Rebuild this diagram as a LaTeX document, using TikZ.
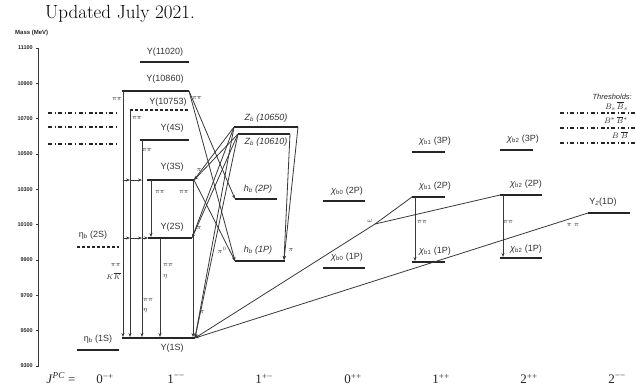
\documentclass[tikz,border=0pt]{standalone}
\usepackage{fontspec}
\newfontfamily\hel{Liberation Sans}
\newfontfamily\tnr{Liberation Serif}
\usetikzlibrary{arrows.meta}
\begin{document}
\begin{tikzpicture}[x=1pt,y=-1pt,
 lvl/.style={line width=1.7pt, black!85},
 lvld/.style={line width=1.7pt, black!85, dash pattern=on 3pt off 2pt},
 thr/.style={line width=1.1pt, black!85, dash pattern=on 4pt off 2.5pt on 1.2pt off 2.5pt},
 conn/.style={line width=0.8pt, black!78},
 arr/.style={conn, -{Stealth[length=4pt,width=3pt]}},
 lab/.style={font=\hel\fontsize{9}{9}\selectfont, inner sep=0pt, text=black!80},
 ilab/.style={font=\hel\itshape\fontsize{9}{9}\selectfont, inner sep=0pt, text=black!80},
 pil/.style={font=\fontsize{7}{7}\selectfont, inner sep=0pt, text=black!80},
 tickl/.style={font=\hel\bfseries\fontsize{5.5}{6}\selectfont, inner sep=0pt, anchor=east, text=black!85},
 jpc/.style={font=\tnr\fontsize{13}{13}\selectfont, inner sep=0pt, text=black!85}
]
\useasboundingbox (0,0) rectangle (636,391);

% title and axis
\node[anchor=base west, font=\fontsize{19}{19}\selectfont, inner sep=0pt] (title) at (45,18) {Updated July 2021.};
\node[anchor=west, font=\hel\bfseries\fontsize{6}{6}\selectfont, inner sep=0pt, text=black!85] (mass) at (15,33) {Mass (MeV)};
\coordinate (axT) at (38,48);
\coordinate (axB) at (38,366);
\draw[conn] (axT) -- (axB);
\foreach \m/\yy in {11100/47.9,10900/83.2,10700/118.6,10500/153.9,10300/189.3,10100/224.6,9900/260,9700/295.3,9500/330.7,9300/366}{
  \coordinate (tk\m) at (36,\yy);
  \draw[conn] (tk\m) -- ++(3,0);
  \node[tickl] (tl\m) at (33,\yy) {\m};
}

% thresholds
\foreach \n/\yy in {a/113,b/127,c/144}{
  \coordinate (thL\n) at (48,\yy); \coordinate (thR\n) at (119,\yy);
  \draw[thr] (thL\n) -- (thR\n);
}
\foreach \n/\yy in {a/113,b/128,c/143}{
  \coordinate (th2L\n) at (560,\yy); \coordinate (th2R\n) at (636,\yy);
  \draw[thr] (th2L\n) -- (th2R\n);
}
\node[anchor=east, font=\hel\itshape\fontsize{7.5}{8}\selectfont, inner sep=0pt, text=black!85] (thr) at (632,97) {Thresholds:};
\node[anchor=east, font=\fontsize{8}{8}\selectfont, inner sep=0pt, text=black!85] (thBs) at (628,106) {$B_s\,\overline{B}_s$};
\node[anchor=east, font=\fontsize{8}{8}\selectfont, inner sep=0pt, text=black!85] (thBst) at (628,120) {$B^*\,\overline{B}{}^*$};
\node[anchor=east, font=\fontsize{8}{8}\selectfont, inner sep=0pt, text=black!85] (thB) at (628,135) {$B\;\overline{B}$};

% Upsilon levels
\coordinate (u6L) at (140,62);  \coordinate (u6R) at (189,62);
\coordinate (u5L) at (122,91);  \coordinate (u5R) at (189,91);
\coordinate (uxL) at (130,110); \coordinate (uxR) at (188,110);
\coordinate (u4L) at (140,140); \coordinate (u4R) at (189,140);
\coordinate (u3L) at (147,180); \coordinate (u3R) at (194,180);
\coordinate (u2L) at (148,238); \coordinate (u2R) at (192,238);
\coordinate (u1L) at (122,338); \coordinate (u1R) at (195,338);
\draw[lvl] (u6L) -- (u6R);
\draw[lvl] (u5L) -- (u5R);
\draw[lvld] (uxL) -- (uxR);
\draw[lvl] (u4L) -- (u4R);
\draw[lvl] (u3L) -- (u3R);
\draw[lvl] (u2L) -- (u2R);
\draw[lvl] (u1L) -- (u1R);
\node[lab] (lu6) at (165,52) {Υ(11020)};
\node[lab] (lu5) at (165,79) {Υ(10860)};
\node[lab] (lux) at (168,102) {Υ(10753)};
\node[lab] (lu4) at (172,128) {Υ(4S)};
\node[lab] (lu3) at (172,167) {Υ(3S)};
\node[lab] (lu2) at (172,227) {Υ(2S)};
\node[lab] (lu1) at (172,348) {Υ(1S)};

% eta_b
\coordinate (e2L) at (77,247); \coordinate (e2R) at (119,247);
\coordinate (e1L) at (77,350); \coordinate (e1R) at (119,350);
\draw[lvld] (e2L) -- (e2R);
\draw[lvl] (e1L) -- (e1R);
\node[lab] (le2) at (93,235) {η\textsubscript{b} (2S)};
\node[lab] (le1) at (98,339) {η\textsubscript{b} (1S)};

% Z_b and h_b
\coordinate (zaL) at (234,127); \coordinate (zaR) at (298,127);
\coordinate (zbL) at (238,134); \coordinate (zbR) at (290,134);
\coordinate (h2L) at (235,199); \coordinate (h2R) at (277,199);
\coordinate (h1L) at (235,261); \coordinate (h1R) at (285,261);
\draw[lvl] (zaL) -- (zaR);
\draw[lvl] (zbL) -- (zbR);
\draw[lvl] (h2L) -- (h2R);
\draw[lvl] (h1L) -- (h1R);
\node[ilab] (lza) at (266,118) {Z\textsubscript{b} (10650)};
\node[ilab] (lzb) at (266,142) {Z\textsubscript{b} (10610)};
\node[ilab] (lh2) at (258,189) {h\textsubscript{b} (2P)};
\node[ilab] (lh1) at (258,250) {h\textsubscript{b} (1P)};

% chi_b levels
\coordinate (c02L) at (323,201); \coordinate (c02R) at (365,201);
\coordinate (c01L) at (323,268); \coordinate (c01R) at (365,268);
\coordinate (c13L) at (412,152); \coordinate (c13R) at (445,152);
\coordinate (c12L) at (412,197); \coordinate (c12R) at (445,197);
\coordinate (c11L) at (412,262); \coordinate (c11R) at (445,262);
\coordinate (c23L) at (500,150); \coordinate (c23R) at (533,150);
\coordinate (c22L) at (500,195); \coordinate (c22R) at (542,195);
\coordinate (c21L) at (500,258); \coordinate (c21R) at (542,258);
\coordinate (dL) at (588,213); \coordinate (dR) at (630,213);
\foreach \c in {c02,c01,c13,c12,c11,c23,c22,c21,d}{\draw[lvl] (\c L) -- (\c R);}
\node[lab] (lc02) at (347,191) {\textit{χ}\textsubscript{b0} (2P)};
\node[lab] (lc01) at (347,257) {\textit{χ}\textsubscript{b0} (1P)};
\node[lab] (lc13) at (435,141) {\textit{χ}\textsubscript{b1} (3P)};
\node[lab] (lc12) at (435,186) {\textit{χ}\textsubscript{b1} (2P)};
\node[lab] (lc11) at (435,251) {\textit{χ}\textsubscript{b1} (1P)};
\node[lab] (lc23) at (523,139) {\textit{χ}\textsubscript{b2} (3P)};
\node[lab] (lc22) at (526,184) {\textit{χ}\textsubscript{b2} (2P)};
\node[lab] (lc21) at (526,249) {\textit{χ}\textsubscript{b2} (1P)};
\node[lab] (ld) at (603,202) {Υ\textsubscript{\textit{2}}(1D)};

% vertical transitions to Upsilon(1S)
\coordinate (v1t) at (123,91);  \coordinate (v1b) at (123,337);
\coordinate (v2t) at (130,110); \coordinate (v2b) at (130,337);
\coordinate (v3t) at (142,140); \coordinate (v3b) at (142,337);
\coordinate (v4t) at (151,180); \coordinate (v4b) at (151,237);
\coordinate (v5t) at (160,238); \coordinate (v5b) at (160,337);
\coordinate (v6t) at (193,180); \coordinate (v6b) at (193,337);
\foreach \v in {1,...,6}{\draw[arr] (v\v t) -- (v\v b);}
% horizontal branches
\coordinate (h3a) at (123,180); \coordinate (h3b) at (130,180); \coordinate (h3c) at (142,180);
\coordinate (h2a) at (123,238); \coordinate (h2b) at (130,238); \coordinate (h2c) at (142,238); \coordinate (h2d) at (148,238);
\draw[arr] (h3a) -- (h3b);
\draw[arr] (h3b) -- (h3c);
\draw[arr] (h2a) -- (h2b);
\draw[arr] (h2b) -- (h2c);
\draw[arr] (h2c) -- (h2d);

% slanted transitions
\draw[arr] (u5R) -- (h2L);
\draw[arr] (u5R) -- (h1L);
\draw[arr] (u3R) -- (h1L);
\foreach \z in {zaL,zbL}{
  \draw[arr] (\z) -- (u3R);
  \draw[arr] (\z) -- (u2R);
  \draw[arr] (\z) -- (u1R);
}
\coordinate (zh1) at (284,260);
\draw[arr] (zaR) -- (zh1);
\draw[arr] (zbR) -- (zh1);
\coordinate (om) at (375,224);
\draw[conn] (c12L) -- (om);
\draw[conn] (c22L) -- (om);
\draw[arr] (om) -- (u1R);
\draw[arr] (dL) -- (u1R);
\coordinate (c1v) at (415,197); \coordinate (c1b) at (415,261);
\coordinate (c2v) at (503,195); \coordinate (c2b) at (503,257);
\draw[arr] (c1v) -- (c1b);
\draw[arr] (c2v) -- (c2b);

% small transition labels
\node[pil] (p1) at (117,99) {$\pi\pi$};
\node[pil] (p2) at (197,98) {$\pi\pi$};
\node[pil] (p3) at (137,118) {$\pi\pi$};
\node[pil] (p4) at (147,150) {$\pi\pi$};
\node[pil] (p5) at (160,192) {$\pi\pi$};
\node[pil] (p6) at (184,192) {$\pi\pi$};
\node[pil, anchor=east] (p7) at (121,265) {$\pi\pi$};
\node[pil, anchor=east] (p7b) at (121,276) {$K\overline{K}$};
\node[pil, anchor=west] (p8) at (163,265) {$\pi\pi$};
\node[pil, anchor=west] (p8b) at (163,277) {$\eta$};
\node[pil, anchor=west] (p9) at (143,300) {$\pi\pi$};
\node[pil, anchor=west] (p9b) at (143,311) {$\eta$};
\node[pil] (p10) at (199,170) {$\pi$};
\node[pil] (p11) at (199,228) {$\pi$};
\node[pil] (p12) at (202,312) {$\pi$};
\node[pil] (p13) at (222,250) {$\pi^0$};
\node[pil] (p14) at (291,250) {$\pi$};
\node[pil] (p15) at (370,221) {$\omega$};
\node[pil] (p16) at (422,222) {$\pi\pi$};
\node[pil] (p17) at (508,222) {$\pi\pi$};
\node[pil] (p18) at (573,225) {$\pi\;\pi$};

% J^PC row
\node[jpc] (jpc) at (61,378) {\textit{J}\textsuperscript{\textit{PC}} =};
\node[jpc] (j1) at (105,379) {0\textsuperscript{−+}};
\node[jpc] (j2) at (176,379) {1\textsuperscript{−−}};
\node[jpc] (j3) at (264,379) {1\textsuperscript{+−}};
\node[jpc] (j4) at (353,379) {0\textsuperscript{++}};
\node[jpc] (j5) at (441,379) {1\textsuperscript{++}};
\node[jpc] (j6) at (529,379) {2\textsuperscript{++}};
\node[jpc] (j7) at (617,379) {2\textsuperscript{−−}};
\end{tikzpicture}
\end{document}
